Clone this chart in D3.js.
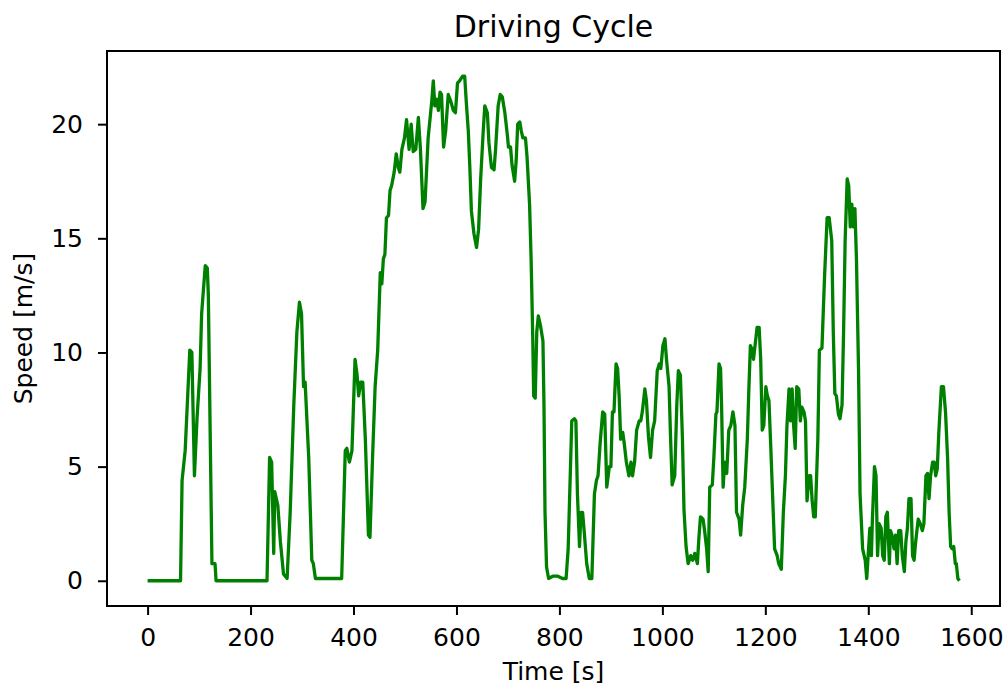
<!DOCTYPE html>
<html>
<head>
<meta charset="utf-8">
<script src="https://cdn.jsdelivr.net/npm/d3@7"></script>
<style>
  html, body { margin: 0; padding: 0; background: #ffffff; }
  svg { display: block; }
  text { font-family: "DejaVu Sans", sans-serif; fill: #000; }
</style>
</head>
<body>
<svg id="chart" width="1008" height="693"></svg>
<script>
// ---- data ----
const chartTitle = "Driving Cycle";
const xLabel = "Time [s]";
const yLabel = "Speed [m/s]";
const xTickValues = [0, 200, 400, 600, 800, 1000, 1200, 1400, 1600];
const yTickValues = [0, 5, 10, 15, 20];

const time = [
  0, 64, 67, 73, 82, 86, 91, 96, 102, 105, 112, 116, 118, 125, 131, 133,
  232, 237, 241, 245, 247, 253, 258, 264, 271, 277, 284, 290, 295, 299, 303, 306, 313, 319, 322, 326,
  377, 384, 387, 392, 397, 403, 407, 410, 414, 418, 423, 429, 432, 437, 442, 447, 452, 455, 458, 461,
  464, 468, 471, 474, 479, 483, 487, 490, 494, 499, 503,
  508, 512, 516, 521, 526, 530, 535, 539, 545, 552, 555, 558, 561, 565, 568, 571, 575, 579, 584, 589,
  594, 598, 602, 606, 612, 616, 619, 623, 626, 629, 634, 639, 643, 647, 652, 655, 660, 663, 668, 673,
  676, 681, 685, 689, 694, 699, 701, 705, 708, 713, 716, 719, 723, 726, 729, 734, 737, 742, 745, 748,
  750, 753, 756, 759, 763, 768, 770, 772, 775, 779, 787, 797,
  806, 813, 817, 821, 824, 829, 832, 835, 839, 842, 845, 848, 853, 858, 863, 868, 872, 875, 879, 884,
  888, 892, 897, 900, 903, 906, 910, 913, 916, 919, 923, 926, 930, 935, 939, 942, 946, 950, 955, 958,
  961, 966, 969, 973, 977, 981, 985, 990, 994, 997, 1001, 1005, 1008, 1013, 1016, 1019, 1024, 1028, 1031, 1035,
  1039, 1042, 1046, 1050, 1055, 1059, 1063, 1068, 1071, 1074, 1079, 1082, 1086, 1089,
  1092, 1097, 1100, 1104, 1106, 1110, 1113, 1115, 1118, 1121, 1125, 1129, 1133, 1137, 1141, 1144, 1149, 1152, 1156, 1160,
  1165, 1168, 1171, 1175, 1177, 1181, 1184, 1188, 1191, 1194, 1197, 1201, 1204, 1207, 1210, 1214, 1218, 1223, 1226, 1231,
  1235, 1239, 1242, 1246, 1249, 1252, 1255, 1258, 1261, 1265, 1268, 1271, 1275, 1278, 1281, 1285, 1288, 1291, 1294, 1297,
  1302, 1305, 1310, 1315, 1320, 1324, 1329, 1332, 1335, 1338, 1342, 1345, 1349, 1352, 1355, 1359, 1362, 1365, 1368, 1371,
  1374, 1377, 1381, 1384, 1389, 1394, 1397,
  1400, 1403, 1406, 1408, 1412, 1415, 1418, 1421, 1425, 1428, 1431, 1434, 1437, 1441, 1443, 1446, 1450, 1453, 1456, 1459,
  1463, 1466, 1470, 1473, 1476, 1479, 1483, 1486, 1489, 1492, 1497, 1501, 1505, 1508, 1512, 1515, 1518, 1521, 1525, 1528,
  1531, 1534, 1537, 1542, 1546, 1550, 1554, 1557, 1560, 1563, 1566, 1569, 1571, 1574, 1577
];

const speed = [
  0, 0, 4.4, 5.7, 10.1, 10.0, 4.6, 7.1, 9.3, 11.7, 13.8, 13.7, 12.5, 0.75, 0.75, 0,
  0, 5.4, 5.2, 1.2, 3.9, 3.3, 1.7, 0.3, 0.1, 3.0, 7.7, 10.9, 12.2, 11.7, 8.5, 8.7, 5.4, 0.9, 0.75, 0.1,
  0.1, 5.7, 5.8, 5.2, 5.7, 9.7, 9.0, 8.1, 8.7, 8.7, 6.2, 2.0, 1.9, 5.4, 8.5, 10.1, 13.5, 13.0, 14.1, 14.3,
  15.9, 16.0, 17.1, 17.3, 17.9, 18.7, 18.1, 17.9, 18.9, 19.4, 20.2,
  18.9, 20.0, 18.8, 18.9, 20.3, 18.9, 16.3, 16.6, 19.4, 21.0, 21.9, 20.8, 21.1, 20.6, 21.4, 21.3, 19.0, 19.7, 21.3, 21.0,
  20.6, 20.5, 21.8, 21.9, 22.1, 22.1, 21.0, 19.7, 18.1, 16.2, 15.2, 14.6, 15.4, 17.6, 19.7, 20.8, 20.5, 19.2, 18.1, 18.0,
  18.9, 20.8, 21.3, 21.2, 20.5, 19.5, 19.0, 19.0, 18.2, 17.5, 18.4, 20.0, 20.1, 19.7, 19.4, 19.4, 18.6, 16.5, 14.1, 10.9,
  8.1, 8.0, 10.9, 11.6, 11.2, 10.5, 7.7, 3.0, 0.6, 0.1, 0.2, 0.2,
  0.1, 0.1, 1.4, 4.6, 7.0, 7.1, 7.0, 3.8, 1.5, 3.0, 3.0, 2.2, 0.75, 0.1, 0.1, 3.8, 4.4, 4.6, 6.0, 7.4,
  7.3, 4.1, 5.0, 5.0, 7.4, 7.4, 9.5, 9.3, 8.1, 6.2, 6.5, 6.0, 5.2, 4.6, 5.2, 4.6, 5.2, 6.6, 7.0, 7.0,
  7.4, 8.4, 7.9, 6.3, 5.4, 6.6, 7.0, 9.2, 9.5, 9.3, 10.3, 10.6, 9.7, 8.5, 6.2, 4.2, 4.6, 7.7, 9.2, 9.0,
  6.2, 3.1, 1.5, 0.75, 1.1, 0.9, 1.2, 0.75, 1.9, 2.8, 2.7, 2.2, 1.4, 0.4,
  4.1, 4.2, 5.4, 7.3, 7.4, 9.5, 9.3, 7.7, 4.1, 5.2, 4.7, 6.6, 6.8, 7.4, 6.8, 3.0, 2.7, 2.0, 3.3, 4.1,
  6.2, 8.4, 10.3, 10.1, 9.7, 10.5, 11.1, 11.1, 9.7, 6.6, 6.8, 8.5, 8.1, 7.9, 6.2, 3.8, 1.4, 1.1, 0.75, 0.5,
  3.0, 4.6, 6.8, 8.4, 7.0, 8.4, 6.8, 5.8, 8.5, 8.4, 7.0, 7.6, 7.4, 7.0, 3.5, 4.6, 4.6, 3.5, 2.8, 2.8,
  6.2, 10.1, 10.2, 13.3, 15.9, 15.9, 14.9, 10.9, 8.2, 8.1, 7.3, 7.1, 7.7, 10.9, 14.9, 17.6, 17.3, 15.5, 16.5, 15.5,
  16.3, 14.1, 9.3, 3.8, 1.4, 0.9, 0.1,
  1.2, 2.3, 1.1, 2.7, 5.0, 4.6, 1.1, 2.5, 2.3, 1.1, 0.9, 2.8, 3.0, 0.75, 2.2, 2.0, 1.4, 2.0, 0.75, 2.2,
  2.2, 1.1, 0.4, 1.7, 2.3, 3.6, 3.6, 1.1, 0.9, 1.7, 2.7, 2.5, 2.2, 2.5, 4.6, 4.7, 3.6, 4.6, 5.2, 5.2,
  4.6, 4.9, 6.5, 8.5, 8.5, 7.4, 5.4, 3.0, 1.5, 1.4, 1.5, 0.75, 0.75, 0.1, 0.0
];

// ---- layout ----
const plot = { left: 107, top: 51, right: 1000, bottom: 606 };
const svg = d3.select("#chart");

const points = time.map((t, i) => ({ t, v: speed[i] }));

// matplotlib-like 5% margins around data
const xExt = d3.extent(time), yExt = d3.extent(speed);
const xPad = (xExt[1] - xExt[0]) * 0.05, yPad = (yExt[1] - yExt[0]) * 0.05;

const x = d3.scaleLinear()
  .domain([xExt[0] - xPad, xExt[1] + xPad])
  .range([plot.left, plot.right]);
const y = d3.scaleLinear()
  .domain([yExt[0] - yPad, yExt[1] + yPad])
  .range([plot.bottom, plot.top]);

svg.append("defs").append("clipPath").attr("id", "clip")
  .append("rect")
  .attr("x", plot.left).attr("y", plot.top)
  .attr("width", plot.right - plot.left).attr("height", plot.bottom - plot.top);

const line = d3.line().x(d => x(d.t)).y(d => y(d.v));
svg.append("path")
  .datum(points)
  .attr("clip-path", "url(#clip)")
  .attr("fill", "none")
  .attr("stroke", "#008000")
  .attr("stroke-width", 3.3)
  .attr("stroke-linejoin", "round")
  .attr("d", line);

const fontSize = 25;
const xAxis = svg.append("g")
  .attr("transform", `translate(0,${plot.bottom})`)
  .call(d3.axisBottom(x).tickValues(xTickValues).tickFormat(d3.format("d"))
    .tickSize(9).tickPadding(13).tickSizeOuter(0));
const yAxis = svg.append("g")
  .attr("transform", `translate(${plot.left},0)`)
  .call(d3.axisLeft(y).tickValues(yTickValues).tickFormat(d3.format("d"))
    .tickSize(9).tickPadding(15).tickSizeOuter(0));

[xAxis, yAxis].forEach(g => {
  g.select(".domain").remove();
  g.selectAll(".tick line").attr("stroke", "#000").attr("stroke-width", 2);
  g.selectAll(".tick text")
    .attr("fill", "#000")
    .style("font-family", "'DejaVu Sans', sans-serif")
    .style("font-size", fontSize + "px");
});

svg.append("rect")
  .attr("x", plot.left).attr("y", plot.top)
  .attr("width", plot.right - plot.left).attr("height", plot.bottom - plot.top)
  .attr("fill", "none").attr("stroke", "#000").attr("stroke-width", 2);

svg.append("text")
  .attr("x", (plot.left + plot.right) / 2).attr("y", 37)
  .attr("text-anchor", "middle")
  .style("font-size", "30px")
  .text(chartTitle);

svg.append("text")
  .attr("x", (plot.left + plot.right) / 2).attr("y", 680)
  .attr("text-anchor", "middle")
  .style("font-size", fontSize + "px")
  .text(xLabel);

svg.append("text")
  .attr("transform", `translate(32,${(plot.top + plot.bottom) / 2}) rotate(-90)`)
  .attr("text-anchor", "middle")
  .style("font-size", fontSize + "px")
  .text(yLabel);
</script>
</body>
</html>
